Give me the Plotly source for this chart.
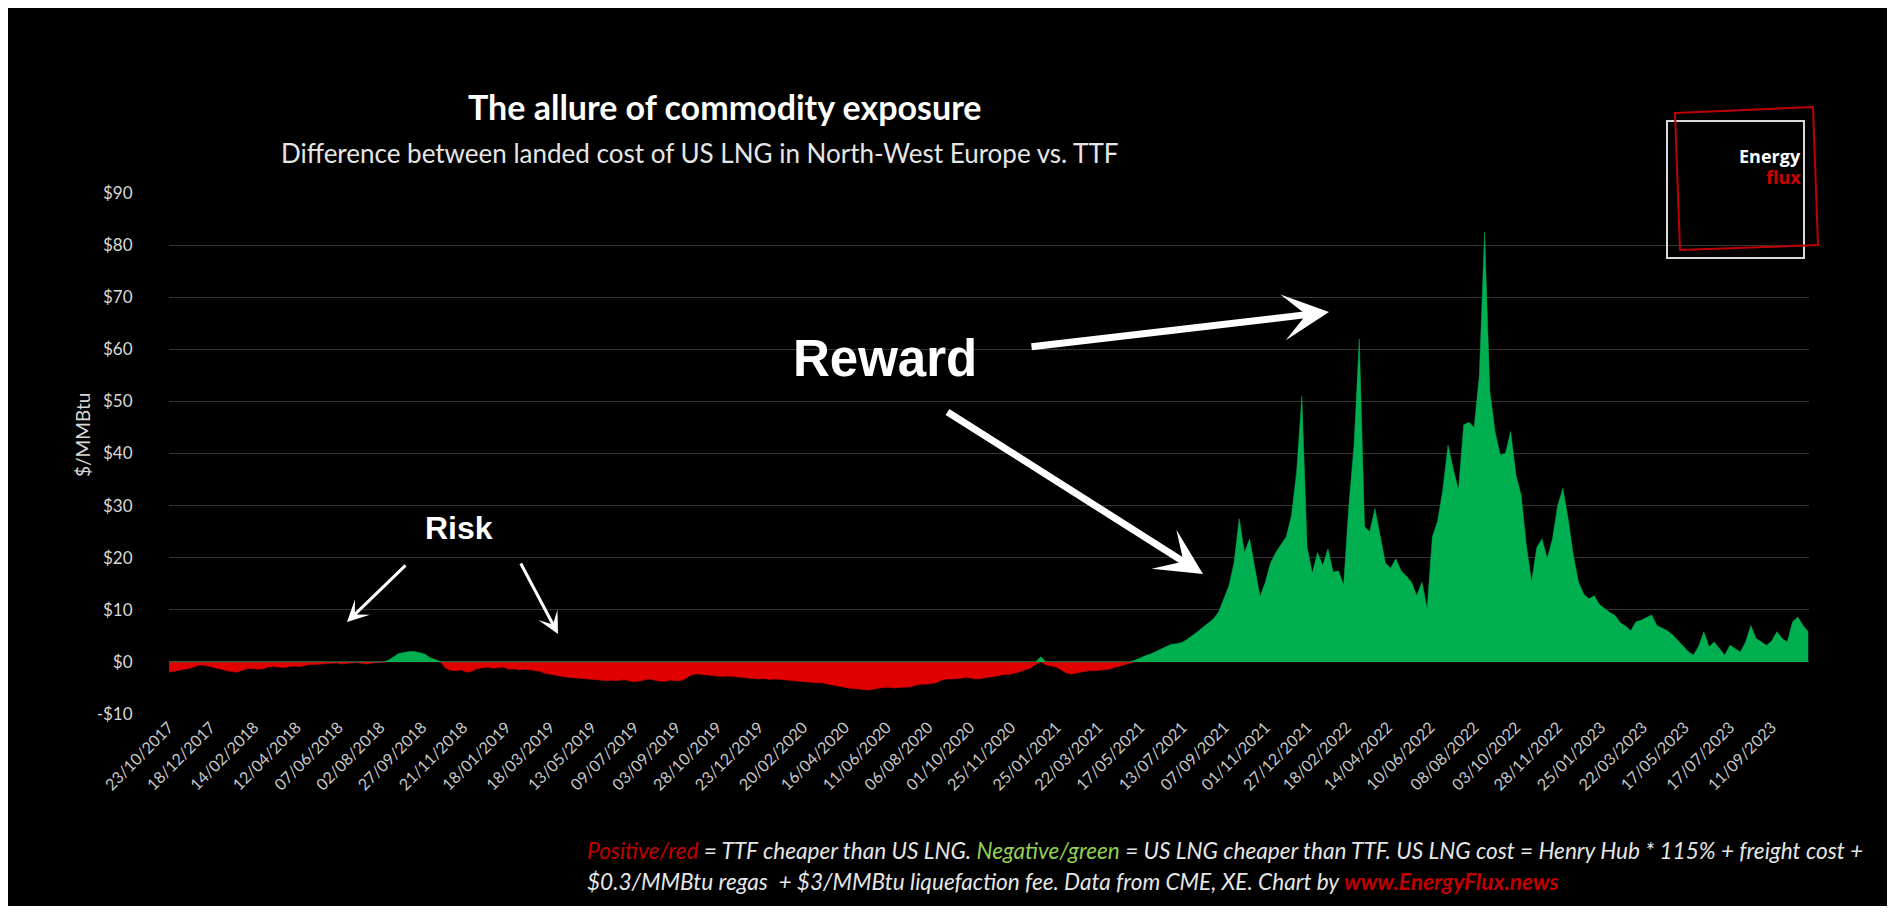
import pandas as pd
import plotly.graph_objects as go

# weekly readings of the spread (US LNG landed cost vs TTF), $/MMBtu, starting 23/10/2017
START = "2017-10-23"
spread_2017_2021 = [
    -2.0, -1.8, -1.7, -1.5, -1.2, -0.9, -0.6, -0.7, -0.9, -1.1,
    -1.4, -1.7, -1.9, -2.0, -1.6, -1.3, -1.3, -1.4, -1.3, -1.0,
    -0.9, -1.0, -1.1, -0.9, -0.8, -0.9, -0.7, -0.5, -0.5, -0.4,
    -0.3, -0.3, -0.2, -0.4, -0.3, -0.2, -0.1, -0.3, -0.4, -0.2,
    -0.2, -0.1, 0.3, 1.0, 1.6, 1.8, 2.0, 2.0, 1.8, 1.5,
    0.8, 0.5, 0.1, -1.2, -1.6, -1.7, -1.5, -2.0, -1.8, -1.3,
    -1.1, -1.0, -1.2, -1.1, -1.0, -1.4, -1.3, -1.5, -1.4, -1.5,
    -1.6, -1.8, -2.2, -2.4, -2.5, -2.8, -2.9, -3.0, -3.1, -3.2,
    -3.2, -3.3, -3.4, -3.5, -3.6, -3.5, -3.6, -3.4, -3.6, -3.8,
    -3.7, -3.5, -3.3, -3.5, -3.7, -3.7, -3.5, -3.6, -3.6, -3.2,
    -2.5, -2.3, -2.4, -2.4, -2.6, -2.7, -2.8, -2.7, -2.8, -2.9,
    -3.0, -3.2, -3.3, -3.3, -3.2, -3.4, -3.3, -3.4, -3.5, -3.6,
    -3.6, -3.7, -3.8, -3.9, -4.0, -4.0, -4.2, -4.5, -4.7, -4.9,
    -5.0, -5.1, -5.2, -5.3, -5.4, -5.2, -5.0, -4.9, -4.9, -5.0,
    -4.9, -4.8, -4.8, -4.5, -4.3, -4.3, -4.2, -4.0, -3.5, -3.3,
    -3.3, -3.2, -3.1, -3.0, -3.2, -3.3, -3.1, -3.0, -2.8, -2.6,
    -2.4, -2.4, -2.2, -1.9, -1.5, -1.2, -0.5, 1.0, -0.6, -0.8,
    -1.0, -1.6, -2.2, -2.3, -2.1, -1.8, -1.7, -1.7, -1.6, -1.6,
    -1.4, -1.1, -0.8, -0.6, -0.2,
]
spread_2021_2023 = [
    0.3, 0.8, 1.2, 1.5, 2.0, 2.4, 2.9, 3.4, 3.5, 3.7,
    4.3, 5.0, 5.8, 6.6, 7.4, 8.2, 9.5, 12.0, 14.5, 19.0,
    27.5, 21.0, 23.6, 18.0, 12.5, 15.3, 19.0, 21.0, 22.4, 24.0,
    28.0, 36.5, 51.0, 22.0, 17.0, 21.0, 18.5, 21.7, 17.2, 17.5,
    14.7, 30.0, 41.6, 62.0, 26.0, 25.0, 29.4, 24.0, 19.0, 18.0,
    19.8, 17.5, 16.5, 15.3, 12.7, 15.3, 10.2, 24.0, 27.0, 33.0,
    41.6, 37.0, 33.0, 45.5, 46.0, 45.0, 55.0, 82.5, 52.0, 44.2,
    39.7, 40.0, 44.2, 35.9, 32.0, 22.4, 15.3, 22.0, 23.6, 19.8,
    23.6, 30.0, 33.3, 27.5, 20.4, 15.3, 13.0, 12.1, 12.7, 11.0,
    10.2, 9.5, 8.9, 7.5, 6.9, 6.0, 7.7, 8.0, 8.5, 9.0,
    7.0, 6.5, 6.0, 5.2, 4.2, 3.2, 2.0, 1.3, 3.0, 5.8,
    2.9, 3.8, 2.5, 1.3, 3.2, 2.5, 1.9, 3.8, 7.0, 4.5,
    3.8, 3.2, 4.0, 5.8, 4.5, 3.8, 7.7, 8.6, 7.0, 5.8,
]

TICK_LABELS = [
    "23/10/2017", "18/12/2017", "14/02/2018", "12/04/2018", "07/06/2018", "02/08/2018",
    "27/09/2018", "21/11/2018", "18/01/2019", "18/03/2019", "13/05/2019", "09/07/2019",
    "03/09/2019", "28/10/2019", "23/12/2019", "20/02/2020", "16/04/2020", "11/06/2020",
    "06/08/2020", "01/10/2020", "25/11/2020", "25/01/2021", "22/03/2021", "17/05/2021",
    "13/07/2021", "07/09/2021", "01/11/2021", "27/12/2021", "18/02/2022", "14/04/2022",
    "10/06/2022", "08/08/2022", "03/10/2022", "28/11/2022", "25/01/2023", "22/03/2023",
    "17/05/2023", "17/07/2023", "11/09/2023",
]
Y_TICKS = [-10, 0, 10, 20, 30, 40, 50, 60, 70, 80, 90]
Y_TICK_TEXT = ["-$10", "$0", "$10", "$20", "$30", "$40", "$50", "$60", "$70", "$80", "$90"]

GREEN = "#00b050"
RED = "#e00000"

# the page puts the figure 8px in from the top-left corner; positions below are page pixels
OFF = 8
W, H = 1895 - OFF, 914 - 16
L, R, T, B = 169 - OFF, 1809 - OFF, 193 - OFF, 714 - OFF


def px(x):
    return (x - OFF - L) / (R - L)


def py(y):
    return (B - (y - OFF)) / (B - T)


spread = spread_2017_2021 + spread_2021_2023
dates = pd.date_range(START, periods=len(spread), freq="7D")
pos = [max(v, 0) for v in spread]
neg = [min(v, 0) for v in spread]
tick_dates = pd.to_datetime(TICK_LABELS, format="%d/%m/%Y")

fig = go.Figure()
fig.add_trace(go.Scatter(x=dates, y=neg, fill="tozeroy", mode="lines",
                         line=dict(color=RED, width=0.5), fillcolor=RED, hoverinfo="skip"))
fig.add_trace(go.Scatter(x=dates, y=pos, fill="tozeroy", mode="lines",
                         line=dict(color=GREEN, width=0.5), fillcolor=GREEN, hoverinfo="skip"))

fig.update_xaxes(
    range=[START, "2023-10-31"], tickvals=tick_dates, ticktext=TICK_LABELS, tickangle=-45,
    showgrid=False, showline=False, zeroline=False, ticks="",
    tickfont=dict(family="Lato", size=16, color="#c8c8c8"),
)
fig.update_yaxes(
    range=[-10, 90], tickvals=Y_TICKS, ticktext=Y_TICK_TEXT, showgrid=True,
    gridcolor="#333333", gridwidth=1, zeroline=False, showline=False,
    ticks="outside", ticklen=32, tickcolor="rgba(0,0,0,0)",
    tickfont=dict(family="Lato", size=17, color="#d9d9d9"),
)

annotations = [
    dict(x=px(725), y=py(106), text="<b>The allure of commodity exposure</b>",
         font=dict(family="Lato", size=34, color="white")),
    dict(x=px(700), y=py(153), text="Difference between landed cost of US LNG in North-West Europe vs. TTF",
         font=dict(family="Lato", size=26, color="#e6e6e6")),
    dict(x=px(82), y=py(435), text="$/MMBtu", textangle=-90,
         font=dict(family="Lato", size=19, color="#d9d9d9")),
    dict(x=px(459), y=py(528), text="<b>Risk</b>",
         font=dict(family="Liberation Sans", size=32, color="white")),
    dict(x=px(885), y=py(358), text="<b>Reward</b>",
         font=dict(family="Liberation Sans", size=51, color="white")),
    dict(x=px(586), y=py(850), xanchor="left",
         text="<i><span style='color:#c00000'>Positive/red</span> = TTF cheaper than US LNG. "
              "<span style='color:#92d050'>Negative/green</span> = US LNG cheaper than TTF. "
              "US LNG cost = Henry Hub * 115% + freight cost +</i>",
         font=dict(family="Lato", size=22.6, color="#e6e6e6")),
    dict(x=px(586), y=py(881), xanchor="left",
         text="<i>$0.3/MMBtu regas  + $3/MMBtu liquefaction fee. Data from CME, XE. Chart by "
              "<span style='color:#c00000'><b>www.EnergyFlux.news</b></span></i>",
         font=dict(family="Lato", size=22.6, color="#e6e6e6")),
    dict(x=px(1802), y=py(156), xanchor="right", text="<b>Energy</b>",
         font=dict(family="Open Sans", size=18, color="white")),
    dict(x=px(1802), y=py(177), xanchor="right", text="<b>flux</b>",
         font=dict(family="Open Sans", size=18, color="#d00000")),
]
for a in annotations:
    a.update(xref="paper", yref="paper", showarrow=False, borderpad=0)
    a.setdefault("xanchor", "center")
    a.setdefault("yanchor", "middle")

# arrows: head point and tail point in page pixels
arrows = [
    ((347, 622), (407, 564), 3, 1.2),
    ((558, 634), (520, 562), 3, 1.2),
    ((1329, 312), (1030, 347), 7, 1.1),
    ((1203, 574), (946, 411), 7, 1.1),
]
for (hx, hy), (tx, ty), w, s in arrows:
    annotations.append(dict(
        x=px(hx), y=py(hy), xref="paper", yref="paper", ax=tx - hx, ay=ty - hy,
        text="", showarrow=True, arrowhead=3, arrowwidth=w, arrowsize=s, arrowcolor="white",
    ))

shapes = [
    dict(type="rect", xref="paper", yref="paper", x0=px(1667), x1=px(1804), y0=py(121), y1=py(258),
         line=dict(color="#d9d9d9", width=2)),
    dict(type="path", xref="paper", yref="paper",
         path=f"M {px(1675)},{py(113)} L {px(1813)},{py(107)} L {px(1818)},{py(245)} L {px(1680)},{py(250)} Z",
         line=dict(color="#c00000", width=2)),
]

fig.update_layout(
    width=W, height=H, showlegend=False,
    margin=dict(l=L, r=W - R, t=T, b=H - B),
    paper_bgcolor="black", plot_bgcolor="black",
    annotations=annotations, shapes=shapes,
)

fig.write_html("out.html")
